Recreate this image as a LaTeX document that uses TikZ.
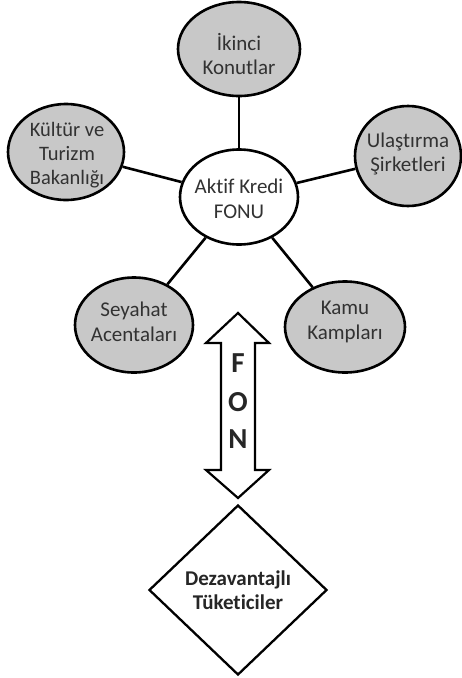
\documentclass[tikz,border=0pt]{standalone}
\usepackage{fontspec}
\setmainfont{Carlito}[Ligatures={NoCommon}]
\usetikzlibrary{shapes.geometric}
\definecolor{fillgray}{RGB}{200,200,200}
\definecolor{txt}{RGB}{50,50,50}
\tikzset{
  bubble/.style={ellipse, draw=black, line width=2.6pt, fill=fillgray, inner sep=0pt},
  centerbubble/.style={bubble, fill=white},
  btext/.style={align=center, text=txt, inner sep=0pt, font=\fontsize{21}{24.5}\selectfont},
  conn/.style={draw=black, line width=2.6pt},
  letter/.style={text=black!85, font=\fontsize{29}{30}\selectfont\bfseries, inner sep=0pt},
  target/.style={diamond, draw=black, line width=2.3pt, fill=white, inner sep=0pt, aspect=1},
  dtext/.style={align=center, text=black!85, inner sep=0pt, font=\fontsize{21}{23.5}\selectfont\bfseries},
  fonarrow/.style={draw=black, line width=2.2pt, fill=white, line join=miter}
}
\begin{document}
\begin{tikzpicture}[x=1pt,y=-1pt]
\useasboundingbox (0,0) rectangle (462,678);
% nodes
\node[centerbubble, minimum width=118pt, minimum height=95pt,
  label={[btext, yshift=-2pt]center:Aktif Kredi\\FONU}] (c) at (239,197) {};
\node[bubble, minimum width=122pt, minimum height=94pt,
  label={[btext, yshift=-5pt]center:İkinci\\Konutlar}] (ik) at (239,49) {};
\node[bubble, minimum width=116pt, minimum height=96pt,
  label={[btext, font=\fontsize{20.5}{24}\selectfont, xshift=1pt, yshift=-3pt]center:Kültür ve\\Turizm\\Bakanlığı}] (kt) at (66,152) {};
\node[bubble, minimum width=106pt, minimum height=100pt,
  label={[btext, yshift=2pt]center:Ulaştırma\\Şirketleri}] (ul) at (408,156) {};
\node[bubble, minimum width=118pt, minimum height=95pt,
  label={[btext, yshift=3pt]center:Seyahat\\Acentaları}] (sy) at (134,325) {};
\node[bubble, minimum width=120pt, minimum height=91pt,
  label={[btext, yshift=5pt]center:Kamu\\Kampları}] (km) at (345,327) {};
% connectors
\draw[conn] (c) -- (ik);
\draw[conn] (c) -- (kt);
\draw[conn] (c) -- (ul);
\draw[conn] (c) -- (sy);
\draw[conn] (c) -- (km);
% double arrow
\coordinate (tt) at (238,313);
\coordinate (tb) at (238,498);
\draw[fonarrow] (tt) -- (269,343) -- (255,343) -- (255,470) -- (269,470) -- (tb)
  -- (206,470) -- (221,470) -- (221,343) -- (206,343) -- cycle;
\node[letter] (lf) at (238,363) {F};
\node[letter] (lo) at (238,402) {O};
\node[letter] (ln) at (238,439) {N};
% diamond
\node[target, minimum width=178pt, minimum height=170pt,
  label={[dtext]center:Dezavantajlı\\Tüketiciler}] (dz) at (238,590) {};
\end{tikzpicture}
\end{document}
